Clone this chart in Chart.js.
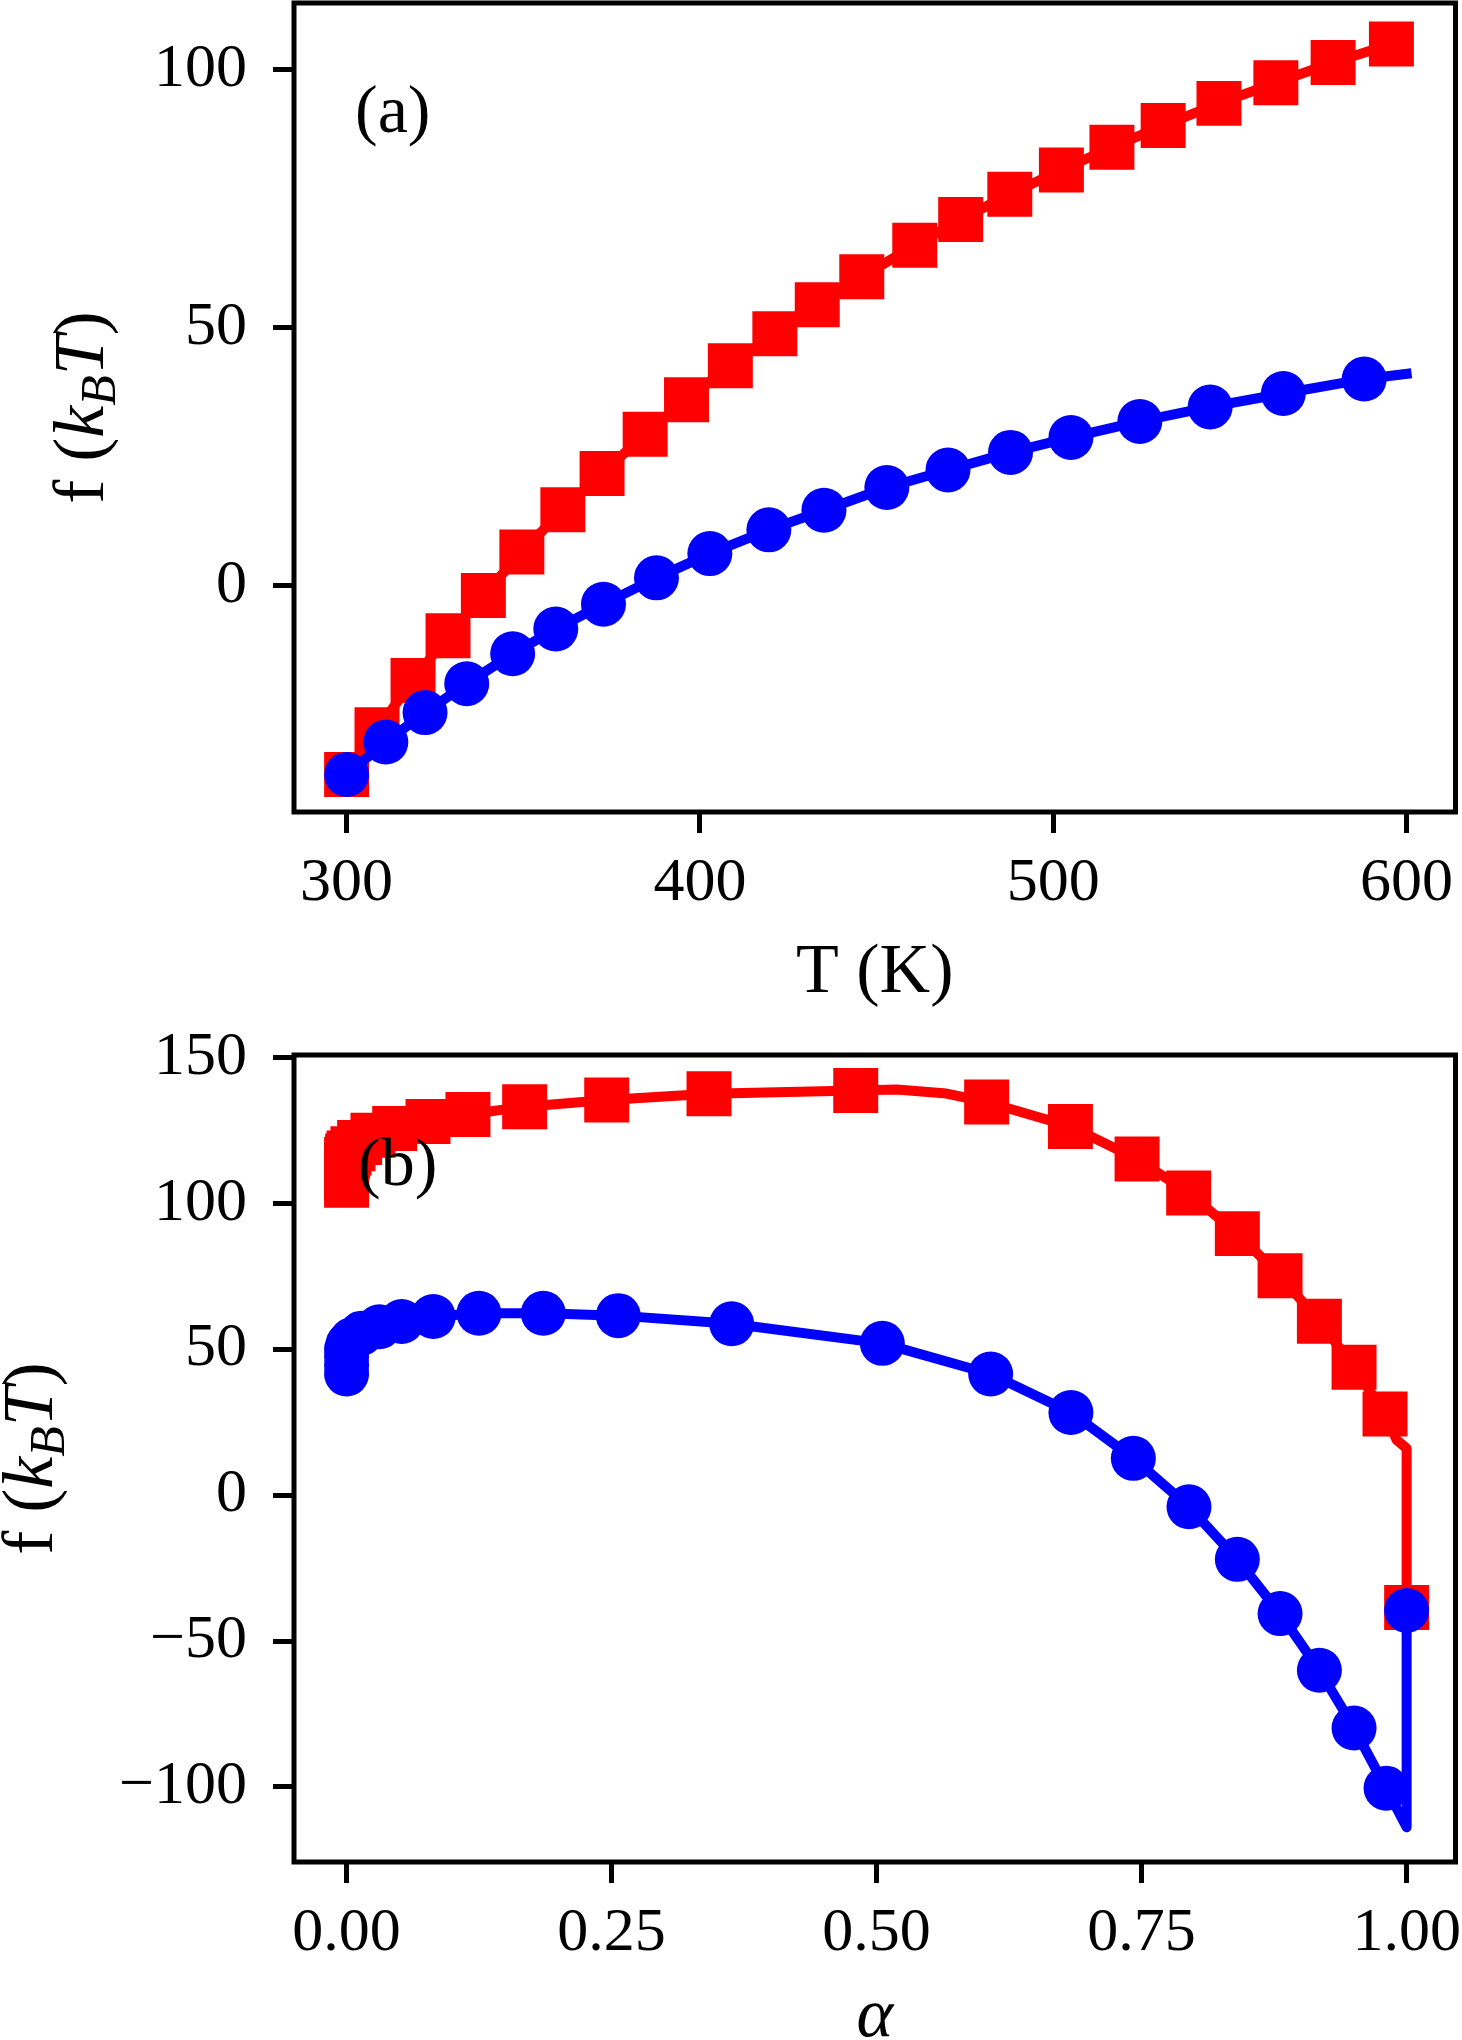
<!DOCTYPE html>
<html>
<head>
<meta charset="utf-8">
<script src="https://cdn.jsdelivr.net/npm/chart.js@4.4.1/dist/chart.umd.min.js"></script>
<style>
html,body{margin:0;padding:0;background:#fff;}
#wrap{position:relative;width:1462px;height:2040px;overflow:hidden;background:#fff;}
canvas{position:absolute;left:0;}
</style>
</head>
<body>
<div id="wrap">
<canvas id="ca" width="1462" height="1030" style="top:0px"></canvas>
<canvas id="cb" width="1462" height="1010" style="top:1030px"></canvas>
</div>
<script>
// ---------- Panel (a): f vs T ----------
const T_red_a = [300, 308.6, 318.8, 328.7, 338.7, 349.6, 361.2, 372.3, 384.5, 396.2, 408.6, 421.2, 433.2, 445.8, 460.8, 473.8, 487.7, 502.3, 516.6, 531.1, 546.9, 563.0, 579.2, 595.7];
const f_red_a = [-36.6, -27.9, -18.4, -9.7, -1.9, 6.5, 14.7, 21.7, 29.3, 36.0, 42.6, 48.8, 54.4, 59.8, 65.9, 70.9, 75.8, 80.5, 84.9, 89.1, 93.4, 97.4, 101.3, 104.9];
const T_blue_a = [300, 311.1, 322.2, 334.0, 347.0, 359.2, 372.7, 387.7, 402.8, 419.5, 435.1, 452.9, 470.2, 487.9, 505.0, 524.5, 544.4, 565.1, 588.0];
const f_blue_a = [-36.6, -30.3, -24.6, -19.0, -13.2, -8.4, -3.6, 1.5, 6.2, 10.8, 14.6, 19.0, 22.4, 25.8, 28.7, 31.8, 34.6, 37.2, 40.0];
const T_blue_line_a = [300, 311.1, 322.2, 334.0, 347.0, 359.2, 372.7, 387.7, 402.8, 419.5, 435.1, 452.9, 470.2, 487.9, 505.0, 524.5, 544.4, 565.1, 588.0, 600];
const f_blue_line_a = [-36.6, -30.3, -24.6, -19.0, -13.2, -8.4, -3.6, 1.5, 6.2, 10.8, 14.6, 19.0, 22.4, 25.8, 28.7, 31.8, 34.6, 37.2, 40.0, 41.0];
const xTicks_a = [300, 400, 500, 600];
const xLabels_a = ['300', '400', '500', '600'];
const yTicks_a = [0, 50, 100];
const yLabels_a = ['0', '50', '100'];

// ---------- Panel (b): f vs alpha ----------
const alpha_red_b = [0, 0, 0, 0, 0, 0.001, 0.0023, 0.006, 0.0123, 0.0249, 0.0454, 0.0768, 0.1145, 0.168, 0.2454, 0.3419, 0.4803, 0.6038, 0.6828, 0.7457, 0.7944, 0.8403, 0.8806, 0.9177, 0.9504, 0.9796, 1.0];
const f_red_b = [106.2, 108.5, 110.8, 113.0, 115.0, 116.2, 117.2, 118.7, 120.8, 123.3, 125.6, 128.0, 130.4, 133.1, 135.4, 137.5, 138.6, 134.7, 126.3, 115.2, 103.5, 89.6, 75.2, 59.6, 43.8, 27.8, -38.5];
const alpha_red_line_b = [0, 0.001, 0.0023, 0.006, 0.0123, 0.0249, 0.0454, 0.0768, 0.1145, 0.168, 0.2454, 0.3419, 0.4803, 0.519, 0.566, 0.6038, 0.6828, 0.7457, 0.7944, 0.8403, 0.8806, 0.9177, 0.9504, 0.9796, 0.9906, 1.0, 1.0];
const f_red_line_b = [106.2, 116.2, 117.2, 118.7, 120.8, 123.3, 125.6, 128.0, 130.4, 133.1, 135.4, 137.5, 138.6, 139.0, 137.6, 134.7, 126.3, 115.2, 103.5, 89.6, 75.2, 59.6, 43.8, 27.8, 18.9, 16.0, -38.5];
const alpha_blue_b = [0, 0, 0, 0, 0.0015, 0.0048, 0.0142, 0.0309, 0.052, 0.0818, 0.1249, 0.1856, 0.2563, 0.3633, 0.5054, 0.6076, 0.6833, 0.7422, 0.7947, 0.8403, 0.8806, 0.9177, 0.9504, 0.9806, 1.0];
const f_blue_b = [41.5, 44.5, 47.5, 50.0, 51.8, 53.2, 55.5, 57.7, 59.5, 61.2, 62.3, 62.3, 61.5, 58.7, 52.0, 41.5, 28.3, 12.6, -4.0, -22.0, -40.6, -60.0, -79.8, -100.4, -39.5];
const alpha_blue_line_b = [0, 0.0015, 0.0048, 0.0142, 0.0309, 0.052, 0.0818, 0.1249, 0.1856, 0.2563, 0.3633, 0.5054, 0.6076, 0.6833, 0.7422, 0.7947, 0.8403, 0.8806, 0.9177, 0.9504, 0.9806, 1.0, 1.0];
const f_blue_line_b = [41.5, 51.8, 53.2, 55.5, 57.7, 59.5, 61.2, 62.3, 62.3, 61.5, 58.7, 52.0, 41.5, 28.3, 12.6, -4.0, -22.0, -40.6, -60.0, -79.8, -100.4, -113.8, -39.5];
const xTicks_b = [0, 0.25, 0.5, 0.75, 1.0];
const xLabels_b = ['0.00', '0.25', '0.50', '0.75', '1.00'];
const yTicks_b = [-100, -50, 0, 50, 100, 150];
const yLabels_b = ['\u2212100', '\u221250', '0', '50', '100', '150'];

// ---------- rendering ----------
const FONT = "'Liberation Serif', 'Times New Roman', serif";
const RED = '#ff0000', BLUE = '#0000ff';

function pts(xs, ys) { return xs.map((x, i) => ({x: x, y: ys[i]})); }

function drawYTitle(ctx, x, y, size) {
  const segs = [
    {t: 'f (', f: size + 'px ' + FONT, dy: 0},
    {t: 'k', f: 'italic ' + size + 'px ' + FONT, dy: 0},
    {t: 'B', f: 'italic ' + Math.round(size * 0.7) + 'px ' + FONT, dy: size * 0.17},
    {t: 'T', f: 'italic ' + size + 'px ' + FONT, dy: 0},
    {t: ')', f: size + 'px ' + FONT, dy: 0}
  ];
  ctx.save();
  ctx.translate(x, y);
  ctx.rotate(-Math.PI / 2);
  ctx.textAlign = 'left';
  ctx.textBaseline = 'alphabetic';
  let total = 0;
  segs.forEach(s => { ctx.font = s.f; s.w = ctx.measureText(s.t).width; total += s.w; });
  let cx = -total / 2;
  segs.forEach(s => { ctx.font = s.f; ctx.fillText(s.t, cx, s.dy); cx += s.w; });
  ctx.restore();
}

const deco = {
  id: 'deco',
  afterDatasetsDraw(chart, args, o) {
    const ctx = chart.ctx, a = chart.chartArea;
    ctx.save();
    ctx.strokeStyle = '#000';
    ctx.lineWidth = 5;
    ctx.strokeRect(a.left, a.top, a.right - a.left, a.bottom - a.top);
    ctx.fillStyle = '#000';
    ctx.textBaseline = 'alphabetic';
    ctx.textAlign = 'left';
    ctx.font = '68px ' + FONT;
    ctx.fillText(o.panel, o.panelX, o.panelY);
    ctx.textAlign = 'center';
    ctx.font = (o.xItalic ? 'italic ' : '') + '70px ' + FONT;
    ctx.fillText(o.xTitle, (a.left + a.right) / 2, o.xTitleY);
    drawYTitle(ctx, o.yTitleX, (a.top + a.bottom) / 2, 72);
    ctx.restore();
  }
};

function makeChart(id, c) {
  const tickFont = {family: FONT, size: 62, lineHeight: 1};
  const grid = {display: true, drawOnChartArea: false, drawTicks: true, tickLength: 21, tickWidth: 5, tickColor: '#000', color: '#000', lineWidth: 5};
  return new Chart(document.getElementById(id), {
    type: 'scatter',
    data: {
      datasets: [
        {data: pts(c.bx, c.by), showLine: false, pointStyle: 'circle', pointRadius: 22.5, pointHoverRadius: 22.5, pointBackgroundColor: BLUE, pointBorderWidth: 0, backgroundColor: BLUE, borderColor: BLUE},
        {data: pts(c.blx, c.bly), showLine: true, pointRadius: 0, pointHoverRadius: 0, borderColor: BLUE, borderWidth: 10, borderJoinStyle: 'round', borderCapStyle: 'square', fill: false, tension: 0},
        {data: pts(c.rx, c.ry), showLine: false, pointStyle: 'rect', pointRadius: 31.8, pointHoverRadius: 31.8, pointBackgroundColor: RED, pointBorderWidth: 0, backgroundColor: RED, borderColor: RED},
        {data: pts(c.rlx, c.rly), showLine: true, pointRadius: 0, pointHoverRadius: 0, borderColor: RED, borderWidth: 10, borderJoinStyle: 'round', borderCapStyle: 'square', fill: false, tension: 0}
      ]
    },
    options: {
      responsive: false,
      animation: false,
      devicePixelRatio: 1,
      events: [],
      layout: {autoPadding: false, padding: {top: c.padTop, right: 6.5, left: 0, bottom: 0}},
      plugins: {
        legend: {display: false},
        tooltip: {enabled: false},
        deco: c.deco
      },
      scales: {
        x: {
          type: 'linear', position: 'bottom', min: c.xmin, max: c.xmax,
          afterBuildTicks: s => { s.ticks = c.xTicks.map(v => ({value: v})); },
          afterFit: s => { s.height = c.xHeight; s.paddingLeft = 0; s.paddingRight = 0; },
          ticks: {autoSkip: false, maxRotation: 0, minRotation: 0, color: '#000', font: tickFont, padding: 20,
                  callback: (v, i) => c.xLabels[i]},
          grid: grid,
          border: {display: false}
        },
        y: {
          type: 'linear', position: 'left', min: c.ymin, max: c.ymax,
          afterBuildTicks: s => { s.ticks = c.yTicks.map(v => ({value: v})); },
          afterFit: s => { s.width = 294; s.paddingTop = 0; s.paddingBottom = 0; },
          ticks: {autoSkip: false, color: '#000', font: tickFont, padding: 26,
                  callback: (v, i) => c.yLabels[i]},
          grid: grid,
          border: {display: false}
        }
      }
    },
    plugins: [deco]
  });
}

makeChart('ca', {
  bx: T_blue_a, by: f_blue_a, blx: T_blue_line_a, bly: f_blue_line_a,
  rx: T_red_a, ry: f_red_a, rlx: T_red_a, rly: f_red_a,
  xmin: 285.11, xmax: 613.84, ymin: -43.85, ymax: 112.84,
  xTicks: xTicks_a, xLabels: xLabels_a, yTicks: yTicks_a, yLabels: yLabels_a,
  padTop: 3, xHeight: 218,
  deco: {panel: '(a)', panelX: 355, panelY: 132, xTitle: 'T (K)', xItalic: false, xTitleY: 992, yTitleX: 103}
});

makeChart('cb', {
  bx: alpha_blue_b, by: f_blue_b, blx: alpha_blue_line_b, bly: f_blue_line_b,
  rx: alpha_red_b, ry: f_red_b, rlx: alpha_red_line_b, rly: f_red_line_b,
  xmin: -0.0496, xmax: 1.0461, ymin: -125.7, ymax: 150.8,
  xTicks: xTicks_b, xLabels: xLabels_b, yTicks: yTicks_b, yLabels: yLabels_b,
  padTop: 25, xHeight: 178,
  deco: {panel: '(b)', panelX: 358, panelY: 155, xTitle: '\u03b1', xItalic: true, xTitleY: 1006, yTitleX: 52}
});
</script>
</body>
</html>
